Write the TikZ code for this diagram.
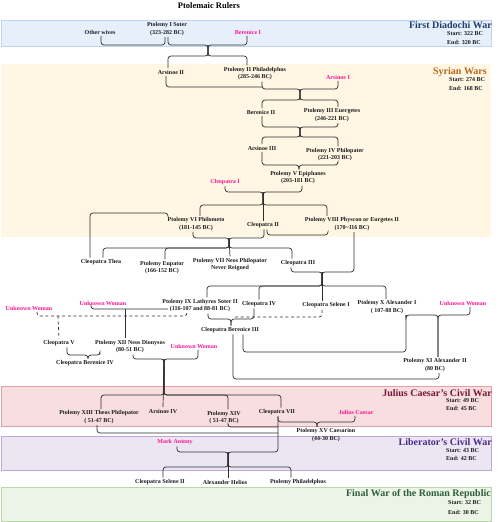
\documentclass[tikz,border=0pt]{standalone}
\usepackage{fontspec}
\setmainfont{Liberation Serif}
\usepackage{xcolor}
\definecolor{NearBlack}{HTML}{1A1A1A}
\definecolor{LineGray}{HTML}{2E2E2E}
\definecolor{Pink}{HTML}{FF1493}
\definecolor{BlueBg}{HTML}{E7EFFB}
\definecolor{BlueLn}{HTML}{BCD3F2}
\definecolor{BlueTt}{HTML}{1F3F6E}
\definecolor{CreamBg}{HTML}{FFF6E4}
\definecolor{SyrTt}{HTML}{B8651B}
\definecolor{PinkBg}{HTML}{F8DEDE}
\definecolor{PinkLn}{HTML}{E0A0A8}
\definecolor{CaesTt}{HTML}{7A1638}
\definecolor{LilacBg}{HTML}{ECE6F3}
\definecolor{LilacLn}{HTML}{C0A6D6}
\definecolor{LibTt}{HTML}{4B2A8A}
\definecolor{GreenBg}{HTML}{EBF4E6}
\definecolor{GreenLn}{HTML}{B5DAA8}
\definecolor{RomTt}{HTML}{2E5E3A}
\usepackage{tikz}
\newcommand{\nmfont}{\fontsize{6}{7.5}\selectfont\bfseries}
\newcommand{\wtfont}{\fontsize{10}{11}\selectfont\bfseries}
\tikzset{
  nm/.style={font=\nmfont,align=center,inner sep=1.5pt,text=NearBlack},
  pk/.style={nm,text=Pink},
  ttl/.style={font=\fontsize{8.5}{10}\selectfont\bfseries,inner sep=0pt},
  lnk/.style={draw=LineGray,line width=0.7pt,rounded corners=3pt},
  dsh/.style={lnk,dash pattern=on 3pt off 2.6pt},
  band/.style={line width=0.6pt},
  wt/.style={font=\wtfont,anchor=east,inner sep=0pt},
  se/.style={font=\nmfont,anchor=west,inner sep=0pt,text=NearBlack},
}

\begin{document}
\begin{tikzpicture}[x=1pt,y=-1pt]
\useasboundingbox (0,0) rectangle (499,522);

% war bands
\filldraw[band,fill=BlueBg,draw=BlueLn] (1,20) rectangle (491,46);
\fill[CreamBg] (1,64) rectangle (491,237);
\filldraw[band,fill=PinkBg,draw=PinkLn] (1,386) rectangle (491,426);
\filldraw[band,fill=LilacBg,draw=LilacLn] (1,436) rectangle (491,470);
\filldraw[band,fill=GreenBg,draw=GreenLn] (1,487) rectangle (491,521);

\node[wt,text=BlueTt] (w1) at (492,25) {First Diadochi War};
\node[se] (w1s) at (447,34) {Start: 322 BC};
\node[se] (w1e) at (447,42) {End: 320 BC};
\node[wt,text=SyrTt] (w2) at (487,72) {Syrian Wars};
\node[se] (w2s) at (449,80) {Start: 274 BC};
\node[se] (w2e) at (449,88) {End: 168 BC};
\node[wt,text=CaesTt] (w3) at (492,393) {Julius Caesar's Civil War};
\node[se] (w3s) at (446,401) {Start: 49 BC};
\node[se] (w3e) at (446,408) {End: 45 BC};
\node[wt,text=LibTt] (w4) at (492,442) {Liberator's Civil War};
\node[se] (w4s) at (446,451) {Start: 43 BC};
\node[se] (w4e) at (446,458) {End: 42 BC};
\node[wt,text=RomTt] (w5) at (491,494) {Final War of the Roman Republic};
\node[se] (w5s) at (448,503) {Start: 32 BC};
\node[se] (w5e) at (448,512) {End: 30 BC};

\node[ttl] (title) at (209,6) {Ptolemaic Rulers};

% rulers and wives
\node[nm] (ow) at (100,32) {Other wives};
\node[nm] (p1) at (167,29) {Ptolemy I Soter\\(323-282 BC)};
\node[pk] (ber1) at (248,32) {Berenice I};
\node[nm] (ars2) at (171,72) {Arsinoe II};
\node[nm] (p2) at (255,73.5) {Ptolemy II Philadelphus\\(285-246 BC)};
\node[pk] (ars1) at (338,77) {Arsinoe I};
\node[nm] (ber2) at (261,112) {Berenice II};
\node[nm] (p3) at (332,115) {Ptolemy III Euergetes\\(246-221 BC)};
\node[nm] (ars3) at (262,148) {Arsinoe III};
\node[nm] (p4) at (335,154.5) {Ptolemy IV Philopater\\(221-203 BC)};
\node[nm] (p5) at (298,177.5) {Ptolemy V Epiphanes\\(203-181 BC)};
\node[pk] (cleo1) at (225,182) {Cleopatra I};
\node[nm] (p6) at (196,224) {Ptolemy VI Philometo\\(181-145 BC)};
\node[nm] (cleo2) at (263,225) {Cleopatra II};
\node[nm] (p8) at (352,224) {Ptolemy VIII Physcon or Eurgetes II\\(170\textasciitilde116 BC)};
\node[nm] (thea) at (101,262) {Cleopatra Thea};
\node[nm] (eup) at (162,267.5) {Ptolemy Eupator\\(166-152 BC)};
\node[nm] (p7) at (230,264.5) {Ptolemy VII Neos Philopator\\Never Reigned};
\node[nm] (cleo3) at (298,263) {Cleopatra III};
\node[nm] (p9) at (200,305.5) {Ptolemy IX Lathyros Soter II\\(116-107 and 88-81 BC)};
\node[nm] (cleo4) at (259,304) {Cleopatra IV};
\node[nm] (sel1) at (326,305.5) {Cleopatra Selene I};
\node[nm] (p10) at (387,307) {Ptolemy X Alexander I\\( 107-88 BC)};
\node[pk] (uwr) at (463,303) {Unknown Woman};
\node[pk] (uwl) at (29,308) {Unknown Woman};
\node[pk] (uwm) at (103,303) {Unknown Woman};
\node[nm] (ber3) at (230,330) {Cleopatra Berenice III};
\node[nm] (cleo5) at (59,343) {Cleopatra V};
\node[nm] (p12) at (130,346.5) {Ptolemy XII Neos Dionysos\\(80-51 BC)};
\node[pk] (uwb) at (194,346) {Unknown Woman};
\node[nm] (ber4) at (85,363) {Cleopatra Berenice IV};
\node[nm] (p11) at (435,365) {Ptolemy XI Alexander II\\(80 BC)};
\node[nm] (p13) at (99,417) {Ptolemy XIII Theos Philopator\\( 51-47 BC)};
\node[nm] (ars4) at (163,411) {Arsinoe IV};
\node[nm] (p14) at (224,417.5) {Ptolemy XIV\\( 51-47 BC)};
\node[nm] (cleo7) at (277,412) {Cleopatra VII};
\node[pk] (caesar) at (356,412) {Julius Caesar};
\node[nm] (p15) at (326,435) {Ptolemy XV Caesarion\\(44-30 BC)};
\node[pk] (antony) at (175,442) {Mark Antony};
\node[nm] (sel2) at (160,482) {Cleopatra Selene II};
\node[nm] (helios) at (225,482) {Alexander Helios};
\node[nm] (pphil) at (298,482) {Ptolemy Philadelphus};

% junctions: parent bar (a), child bar (b)
\coordinate (m0) at (133,45);
\coordinate (ja1) at (208,45);  \coordinate (jb1) at (208,56);
\coordinate (m1) at (262,87);
\coordinate (ja2) at (300,89);  \coordinate (jb2) at (300,100);
\coordinate (ja3) at (300,127); \coordinate (jb3) at (300,137);
\coordinate (ja4) at (299,165);
\coordinate (ja5) at (263,192); \coordinate (jb5) at (263,205);
\coordinate (m2) at (130,213);
\coordinate (m3) at (298,235);
\coordinate (ja6) at (229,238); \coordinate (jb6) at (229,248);
\coordinate (ja7) at (322,272); \coordinate (jb7) at (322,286);
\coordinate (ja9) at (231,319);
\coordinate (m4) at (233,317);
\coordinate (m5) at (58,316);
\coordinate (m6) at (125,309);  \coordinate (m6r) at (168,309);
\coordinate (ja10) at (88,355);
\coordinate (ja11) at (164,359); \coordinate (jb11) at (164,395);
\coordinate (m7) at (320,352);
\coordinate (m8) at (330,379);
\coordinate (ja8) at (438,315);
\coordinate (ja12) at (317,422);
\coordinate (m9) at (278,433);
\coordinate (m10) at (278,427);
\coordinate (ja13) at (228,452); \coordinate (jb13) at (228,467);

% Ptolemy I
\draw[lnk] ([xshift=1pt]ow.south) |- (m0) -| ([xshift=-2pt]p1.south);
\foreach \p/\s in {p1/1,ber1/-1}
  \draw[lnk] ([xshift=\s pt]\p.south) |- (ja1) -- (jb1);
\foreach \c/\s in {ars2/-3,p2/-8}
  \draw[lnk] (ja1) -- (jb1) -| ([xshift=\s pt]\c.north);
\draw[lnk] ([xshift=-5pt]ars2.south) |- (m1);

% Ptolemy II to Ptolemy V
\foreach \p/\s in {p2/7,ars1/0}
  \draw[lnk] ([xshift=\s pt]\p.south) |- (ja2) -- (jb2);
\foreach \c/\s in {ber2/1,p3/6}
  \draw[lnk] (ja2) -- (jb2) -| ([xshift=\s pt]\c.north);
\foreach \p/\s in {ber2/1,p3/6}
  \draw[lnk] ([xshift=\s pt]\p.south) |- (ja3) -- (jb3);
\foreach \c/\s in {ars3/0,p4/3}
  \draw[lnk] (ja3) -- (jb3) -| ([xshift=\s pt]\c.north);
\foreach \p/\s in {ars3/0,p4/3}
  \draw[lnk] ([xshift=\s pt]\p.south) |- (ja4) -- (ja4 |- p5.north);

% Ptolemy V and Cleopatra I
\foreach \p/\s in {cleo1/0,p5/4}
  \draw[lnk] ([xshift=\s pt]\p.south) |- (ja5) -- (jb5);
\foreach \c/\s in {p6/4,p8/-25}
  \draw[lnk] (ja5) -- (jb5) -| ([xshift=\s pt]\c.north);
\draw[lnk] (ja5) -- (cleo2.north);
\draw[lnk] ([xshift=-28pt]p6.north) |- (m2) -| ([xshift=-11pt]thea.north);
\draw[lnk] ([xshift=4pt]cleo2.south) |- (m3) -| ([xshift=-24pt]p8.south);

% Ptolemy VI and Cleopatra II
\foreach \p/\s in {p6/-3,cleo2/1}
  \draw[lnk] ([xshift=\s pt]\p.south) |- (ja6) -- (jb6);
\foreach \c/\s in {thea/2,eup/3,cleo3/-6}
  \draw[lnk] (ja6) -- (jb6) -| ([xshift=\s pt]\c.north);
\draw[lnk] (ja6) -- (p7.north);

% Ptolemy VIII and Cleopatra III
\foreach \p/\s in {cleo3/-7,p8/2}
  \draw[lnk] ([xshift=\s pt]\p.south) |- (ja7) -- (jb7);
\foreach \c/\s in {p9/7,cleo4/0,p10/-1}
  \draw[lnk] (ja7) -- (jb7) -| ([xshift=\s pt]\c.north);
\draw[lnk] (ja7) -- (ja7 |- sel1.north);

% Ptolemy IX
\foreach \p/\s in {p9/8,cleo4/-5}
  \draw[lnk] ([xshift=\s pt]\p.south) |- (ja9) -- (ja9 |- ber3.north);
\draw[dsh] ([xshift=-4pt]sel1.south) |- (m4);
\draw[dsh] ([xshift=8pt]uwl.south) |- (m5) -| ([xshift=-13pt]p9.south);
\draw[dsh] (m5) -- (cleo5.north);
\draw[lnk] ([xshift=-12pt]uwm.south) |- (m6) -- (m6r);
\draw[lnk] (m6) -- (m6 |- p12.north);

% Ptolemy XII
\foreach \p/\s in {cleo5/8,p12/-30}
  \draw[lnk] ([xshift=\s pt]\p.south) |- (ja10) -- (ja10 |- ber4.north);
\foreach \p/\s in {p12/3,uwb/4}
  \draw[lnk] ([xshift=\s pt]\p.south) |- (ja11) -- (jb11);
\foreach \c/\s in {p13/2,p14/4,cleo7/4}
  \draw[lnk] (ja11) -- (jb11) -| ([xshift=\s pt]\c.north);
\draw[lnk] (ja11) -- (ars4.north);

% Ptolemy X, XI and Cleopatra Berenice III
\foreach \p/\s in {p10/19,uwr/7}
  \draw[lnk] ([xshift=\s pt]\p.south) |- (ja8) -- (ja8 |- p11.north);
\draw[lnk] ([xshift=13pt]ber3.south) |- (m7) -| ([xshift=19pt]p10.south);
\draw[lnk] ([xshift=3pt]ber3.south) |- (m8) -| ([xshift=4pt]p11.south);

% Cleopatra VII
\foreach \p/\s in {cleo7/1,caesar/-1}
  \draw[lnk] ([xshift=\s pt]\p.south) |- (ja12) -- (ja12 |- p15.north);
\draw[lnk] ([xshift=-2pt]p13.south) |- (m9);
\draw[lnk] ([xshift=4pt]p14.south) |- (m10);
\foreach \p/\s in {antony/2,cleo7/1}
  \draw[lnk] ([xshift=\s pt]\p.south) |- (ja13) -- (jb13);
\foreach \c/\s in {sel2/3,pphil/-7}
  \draw[lnk] (ja13) -- (jb13) -| ([xshift=\s pt]\c.north);
\draw[lnk] (ja13) -- (ja13 |- helios.north);
\end{tikzpicture}
\end{document}
